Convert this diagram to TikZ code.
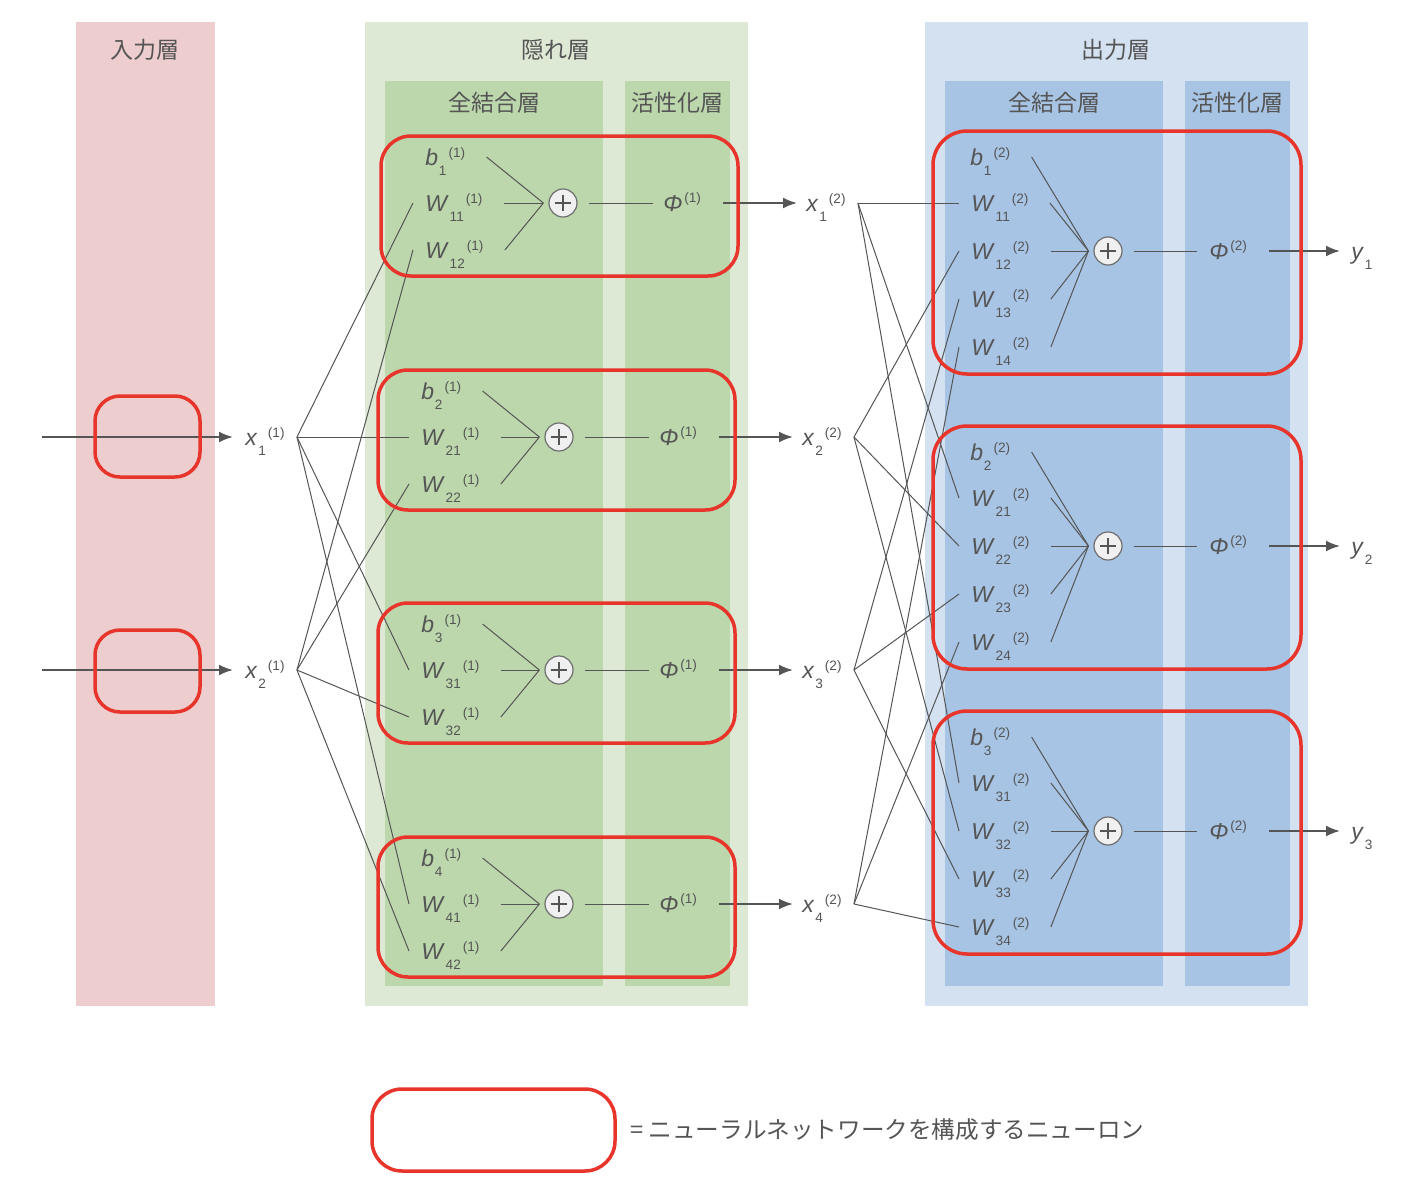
\documentclass[tikz,border=0pt]{standalone}
\usepackage{fontspec}
\setmainfont{Liberation Sans}
\newfontfamily\jpfont{Noto Sans CJK JP}
\usetikzlibrary{arrows.meta}

\definecolor{inpink}{HTML}{EDCDCD}
\definecolor{hidlight}{HTML}{DDE8D5}
\definecolor{hiddark}{HTML}{BCD7AC}
\definecolor{outlight}{HTML}{D4E1F1}
\definecolor{outdark}{HTML}{A8C4E4}
\definecolor{neured}{HTML}{E8352B}
\definecolor{txtgray}{HTML}{555555}
\definecolor{wiregray}{HTML}{555555}

\newcommand\idxfont{\fontsize{6.8}{7}\selectfont}
\newcommand\vsym[3]{\textit{#1}\kern0.4pt\raisebox{-5pt}{\idxfont #2}\kern1pt\raisebox{4pt}{\idxfont #3}}
\newcommand\actsym[1]{\textit{Φ}\kern0.8pt\raisebox{4.5pt}{\idxfont #1}}

\begin{document}
\begin{tikzpicture}[x=0.5pt,y=-0.5pt,>={Latex[length=7pt,width=5.5pt]},
	lab/.style={inner sep=0pt,text height=8pt,text depth=0pt,anchor=west,text=txtgray,font=\fontsize{11.5}{13}\selectfont},
	head/.style={text=txtgray,inner sep=0pt,font=\jpfont\fontsize{11.5}{14}\selectfont},
	neuron/.style={draw=neured,line width=1.75pt,rounded corners=15pt},
	sum/.style={circle,draw=wiregray!85,fill=gray!12,line width=0.6pt,minimum size=14pt,inner sep=0pt,
		path picture={\draw[wiregray,line width=0.7pt]
			([xshift=-4.2pt]path picture bounding box.center) -- ([xshift=4.2pt]path picture bounding box.center)
			([yshift=-4.2pt]path picture bounding box.center) -- ([yshift=4.2pt]path picture bounding box.center);}},
	wire/.style={draw=wiregray,line width=0.5pt},
	flow/.style={draw=wiregray,line width=1pt,->}]
	\useasboundingbox (0,0) rectangle (1426,1200);

	% layer backgrounds
	\fill[inpink] (76,22) rectangle (215,1006);
	\fill[hidlight] (365,22) rectangle (748,1006);
	\fill[hiddark] (385,81) rectangle (603,986);
	\fill[hiddark] (625,81) rectangle (730,986);
	\fill[outlight] (925,22) rectangle (1308,1006);
	\fill[outdark] (945,81) rectangle (1163,986);
	\fill[outdark] (1185,81) rectangle (1290,986);

	\node[head] (inhead) at (145,50) {入力層};
	\node[head] (hidhead) at (556,50) {隠れ層};
	\node[head] (hidfc) at (494,103) {全結合層};
	\node[head] (hidact) at (677,103) {活性化層};
	\node[head] (outhead) at (1116,50) {出力層};
	\node[head] (outfc) at (1054,103) {全結合層};
	\node[head] (outact) at (1237,103) {活性化層};

	% input layer
	\foreach \ii/\cy in {1/437,2/670} {
		\node[lab] (x1\ii) at (245,\cy) {\vsym{x}{\ii}{(1)}};
		\coordinate (in\ii) at (42,\cy);
		\draw[flow,shorten >=6pt] (in\ii) -- (x1\ii.west);
	}

	% hidden layer
	\foreach \nn/\cy/\dx in {1/203/4,2/437/0,3/670/0,4/904/0} {
		\node[lab] (b1\nn) at (421+\dx,\cy-46) {\vsym{b}{\nn}{(1)}};
		\node[lab] (w1\nn1) at (421+\dx,\cy) {\vsym{W}{\nn1}{(1)}};
		\node[lab] (w1\nn2) at (421+\dx,\cy+47) {\vsym{W}{\nn2}{(1)}};
		\node[sum] (s1\nn) at (559+\dx,\cy) {};
		\coordinate (j1\nn) at ([xshift=-2.5pt]s1\nn.west);
		\node[lab] (f1\nn) at (659+\dx,\cy) {\actsym{(1)}};
		\node[lab] (x2\nn) at (802+\dx,\cy) {\vsym{x}{\nn}{(2)}};
		\draw[wire] ([xshift=10.5pt]b1\nn.east) -- (j1\nn);
		\draw[wire] ([xshift=10.5pt]w1\nn1.east) -- (j1\nn);
		\draw[wire] ([xshift=10.5pt]w1\nn2.east) -- (j1\nn);
		\draw[wire] ([xshift=5.5pt]s1\nn.east) -- ([xshift=-5pt]f1\nn.west);
		\draw[flow] ([xshift=11pt]f1\nn.east) -- ([xshift=-4.5pt]x2\nn.west);
		\foreach \ii in {1,2}
			\draw[wire] ([xshift=6pt]x1\ii.east) -- ([xshift=-6pt]w1\nn\ii.west);
	}

	% output layer
	\foreach \jj/\cy in {1/251,2/546,3/831} {
		\node[lab] (b2\jj) at (970,\cy-94) {\vsym{b}{\jj}{(2)}};
		\foreach \ii in {1,...,4}
			\node[lab] (w2\jj\ii) at (971,\cy-96+48*\ii) {\vsym{W}{\jj\ii}{(2)}};
		\node[sum] (s2\jj) at (1108,\cy) {};
		\coordinate (j2\jj) at ([xshift=-2.5pt]s2\jj.west);
		\node[lab] (f2\jj) at (1209,\cy) {\actsym{(2)}};
		\node[lab] (y\jj) at (1351,\cy) {\vsym{y}{\jj}{}};
		\draw[wire] ([xshift=10.5pt]b2\jj.east) -- (j2\jj);
		\foreach \ii in {1,...,4} {
			\draw[wire] ([xshift=10.5pt]w2\jj\ii.east) -- (j2\jj);
			\draw[wire] ([xshift=6pt]x2\ii.east) -- ([xshift=-6pt]w2\jj\ii.west);
		}
		\draw[wire] ([xshift=5.5pt]s2\jj.east) -- ([xshift=-6pt]f2\jj.west);
		\draw[flow] ([xshift=11pt]f2\jj.east) -- ([xshift=-5.5pt]y\jj.west);
	}

	% neurons
	\draw[neuron,rounded corners=12.5pt] (95,396) rectangle (200,477);
	\draw[neuron,rounded corners=12.5pt] (95,630) rectangle (200,712);
	\foreach \cy/\dx in {203/3,437/0,670/0,904/0}
		\draw[neuron] (378+\dx,\cy-67) rectangle (735+\dx,\cy+73);
	\foreach \cy in {251,546,831}
		\draw[neuron,rounded corners=17pt] (933,\cy-120) rectangle (1301,\cy+123);

	% legend
	\draw[neuron] (372,1089) rectangle (615,1171);
	\node[head,anchor=west,font=\jpfont\fontsize{11.8}{14}\selectfont] (legend) at (630,1130) {= ニューラルネットワークを構成するニューロン};
\end{tikzpicture}
\end{document}
